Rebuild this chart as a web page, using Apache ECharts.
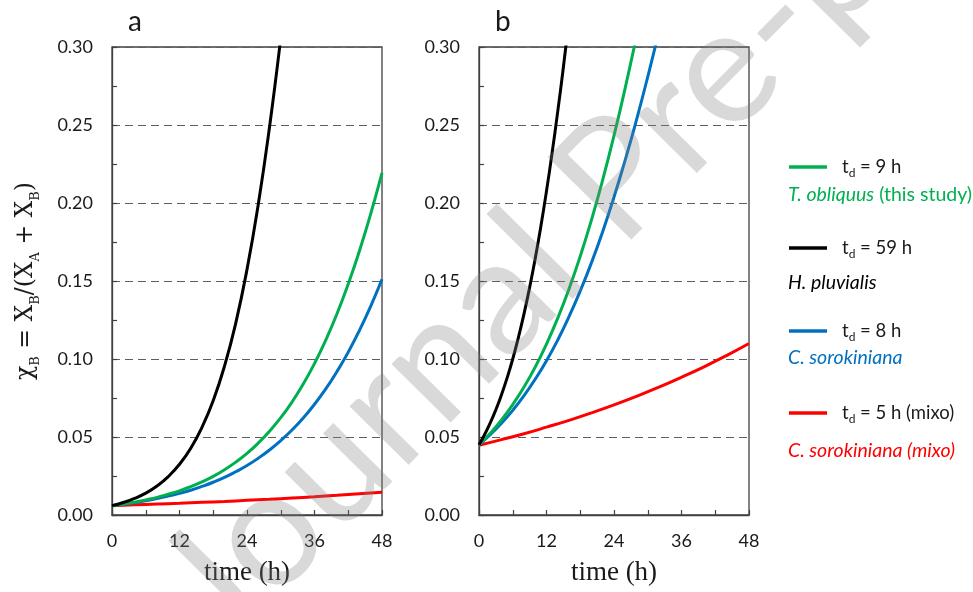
<!DOCTYPE html>
<html><head><meta charset="utf-8">
<script src="https://cdn.jsdelivr.net/npm/echarts@6/dist/echarts.min.js"></script>
<style>html,body{margin:0;padding:0;background:#fff}#c{width:973px;height:592px}</style>
</head><body><div id="c"></div>
<script>
// ---- data ----
const hoursStep1 = [0,1,2,3,4,5,6,7,8,9,10,11,12,13,14,15,16];
const hoursStep2 = [0,2,4,6,8,10,12,14,16,18,20,22,24,26,28,30,32,34,36,38,40,42,44,46,48];
const hoursStep4 = [0,4,8,12,16,20,24,28,32,36,40,44,48];
const xTicks = [0,12,24,36,48];
const yTicks = [0,0.05,0.10,0.15,0.20,0.25,0.30];

// panel a
const aBlack = [0.0060,0.0080,0.0106,0.0140,0.0186,0.0246,0.0325,0.0428,0.0562,0.0734,0.0954,0.1230,0.1574,0.1991,0.2486,0.3058,0.3696];
const aGreen = [0.0060,0.0070,0.0082,0.0097,0.0113,0.0133,0.0155,0.0182,0.0213,0.0248,0.0290,0.0339,0.0395,0.0461,0.0537,0.0624,0.0724,0.0839,0.0971,0.1121,0.1290,0.1481,0.1694,0.1931,0.2193];
const aBlue  = [0.0060,0.0069,0.0079,0.0091,0.0105,0.0121,0.0139,0.0159,0.0183,0.0210,0.0241,0.0277,0.0317,0.0364,0.0417,0.0477,0.0545,0.0622,0.0710,0.0808,0.0920,0.1044,0.1184,0.1339,0.1511];
const aRed   = [0.0060,0.0065,0.0070,0.0075,0.0081,0.0087,0.0094,0.0101,0.0109,0.0117,0.0126,0.0136,0.0146];
// panel b
const bBlack = [0.0450,0.0516,0.0590,0.0675,0.0771,0.0879,0.1000,0.1137,0.1289,0.1458,0.1645,0.1851,0.2077,0.2322,0.2587,0.2870,0.3171];
const bGreen = [0.0450,0.0524,0.0609,0.0708,0.0820,0.0949,0.1096,0.1262,0.1449,0.1659,0.1892,0.2150,0.2432,0.2739,0.3069];
const bBlue  = [0.0450,0.0515,0.0588,0.0671,0.0765,0.0871,0.0989,0.1122,0.1271,0.1436,0.1618,0.1818,0.2038,0.2276,0.2533,0.2809,0.3102];
const bRed   = [0.0447,0.0483,0.0521,0.0563,0.0607,0.0655,0.0706,0.0761,0.0820,0.0883,0.0950,0.1022,0.1099];

const legendItems = [
  {color:'#00B050', td:'9 h', species:'{i|T. obliquus}{n| (this study)}'},
  {color:'#000000', td:'59 h', species:'{i|H. pluvialis}'},
  {color:'#0070C0', td:'8 h', species:'{i|C. sorokiniana}'},
  {color:'#FF0000', td:'5 h (mixo)', species:'{i|C. sorokiniana (mixo)}'}
];
const panelLabels = ['a','b'];
const watermark = 'Journal Pre-proof';

// ---- chart ----
const zip = (xs, ys) => ys.map((y, i) => [xs[i], y]);
const axisCol = '#404040';
const txtCol = '#1a1a1a';
const tickFont = 'Lato';

function mkX(i){
  return {gridIndex:i, type:'value', min:0, max:48, interval:12,
    name:'time (h)', nameLocation:'middle', nameGap:44,
    nameTextStyle:{fontFamily:'Liberation Serif', fontSize:27, color:txtCol},
    axisLine:{show:true, onZero:false, lineStyle:{color:axisCol, width:1.3}},
    axisTick:{show:true, inside:true, length:5, lineStyle:{color:axisCol, width:1.2}},
    minorTick:{show:true, splitNumber:2, length:5, lineStyle:{color:axisCol, width:1.2}},
    axisLabel:{fontFamily:tickFont, fontSize:18, color:txtCol, margin:17,
      formatter: v => xTicks.includes(v) ? String(v) : ''},
    splitLine:{show:false}};
}
function mkY(i){
  const y = {gridIndex:i, type:'value', min:0, max:0.3, interval:0.05,
    axisLine:{show:true, onZero:false, lineStyle:{color:axisCol, width:1.3}},
    axisTick:{show:true, inside:true, length:5, lineStyle:{color:axisCol, width:1.2}},
    minorTick:{show:true, splitNumber:2, length:5, lineStyle:{color:axisCol, width:1.2}},
    axisLabel:{fontFamily:tickFont, fontSize:18, color:txtCol, margin:19,
      formatter: v => yTicks.some(t => Math.abs(t - v) < 1e-9) ? v.toFixed(2) : ''},
    splitLine:{show:true, lineStyle:{color:'#5e5e5e', width:1, type:[8,5]}}};
  if (i === 0) {
    y.name = '{m|χ}{s|B}{m| = X}{s|B}{m|/(X}{s|A}{m| + X}{s|B}{m|)}';
    y.nameLocation = 'middle';
    y.nameRotate = 90;
    y.nameGap = 70;
    y.nameTextStyle = {color:txtCol, rich:{
      m:{fontFamily:'DejaVu Serif', fontSize:23.5, color:txtCol, lineHeight:32},
      s:{fontFamily:'DejaVu Serif', fontSize:13, color:txtCol, lineHeight:13, verticalAlign:'bottom'}}};
  }
  return y;
}
function line(name, g, xs, ys, color){
  return {name, type:'line', xAxisIndex:g, yAxisIndex:g, data:zip(xs, ys),
    showSymbol:false, smooth:true, clip:true, lineStyle:{color, width:3}, itemStyle:{color}, z:3};
}

const graphics = [];
const gridLefts = [112, 479];
panelLabels.forEach((p, i) => graphics.push({type:'text', x:gridLefts[i]+16, y:22, z:5,
  style:{text:p, fontFamily:'Lato', fontSize:28, fill:txtCol, textAlign:'left', textVerticalAlign:'middle'}}));
const legLineY = [167, 248, 331, 413];
const legSpY = [195, 283, 358, 451];
legendItems.forEach((it, k) => {
  graphics.push({type:'line', z:5, shape:{x1:789, y1:legLineY[k], x2:827, y2:legLineY[k]}, style:{stroke:it.color, lineWidth:3.5}});
  graphics.push({type:'text', x:842, y:legLineY[k], z:5, style:{
    text:'{n|t}{s|d}{n| = ' + it.td + '}', textVerticalAlign:'middle', textAlign:'left',
    rich:{n:{fontFamily:'Lato', fontSize:18.5, fill:txtCol, lineHeight:24},
          s:{fontFamily:'Lato', fontSize:12, fill:txtCol, lineHeight:12, verticalAlign:'bottom'}}}});
  graphics.push({type:'text', x:788, y:legSpY[k], z:5, style:{
    text:it.species, textVerticalAlign:'middle', textAlign:'left',
    rich:{i:{fontFamily:'Lato', fontStyle:'italic', fontSize:19.5, fill:it.color},
          n:{fontFamily:'Lato', fontSize:19.5, fill:it.color}}}});
});
graphics.push({type:'text', x:245, y:672, rotation:Math.PI*0.252, z:100, silent:true,
  style:{text:watermark, fontFamily:'Lato', fontSize:164, fill:'rgba(128,128,128,0.30)', textVerticalAlign:'bottom', textAlign:'left'}});

const option = {
  animation:false,
  backgroundColor:'#ffffff',
  grid:[
    {left:112, top:47, width:270, height:468, show:true, borderColor:axisCol, borderWidth:1.3, backgroundColor:'transparent'},
    {left:479, top:47, width:270, height:468, show:true, borderColor:axisCol, borderWidth:1.3, backgroundColor:'transparent'}
  ],
  xAxis:[mkX(0), mkX(1)],
  yAxis:[mkY(0), mkY(1)],
  graphic:{elements:graphics},
  series:[
    line('a red', 0, hoursStep4, aRed, '#FF0000'),
    line('a blue', 0, hoursStep2, aBlue, '#0070C0'),
    line('a green', 0, hoursStep2, aGreen, '#00B050'),
    line('a black', 0, hoursStep2, aBlack, '#000000'),
    line('b red', 1, hoursStep4, bRed, '#FF0000'),
    line('b blue', 1, hoursStep2, bBlue, '#0070C0'),
    line('b green', 1, hoursStep2, bGreen, '#00B050'),
    line('b black', 1, hoursStep1, bBlack, '#000000')
  ]
};
const chart = echarts.init(document.getElementById('c'), null, {renderer:'canvas'});
chart.setOption(option);
</script></body></html>
